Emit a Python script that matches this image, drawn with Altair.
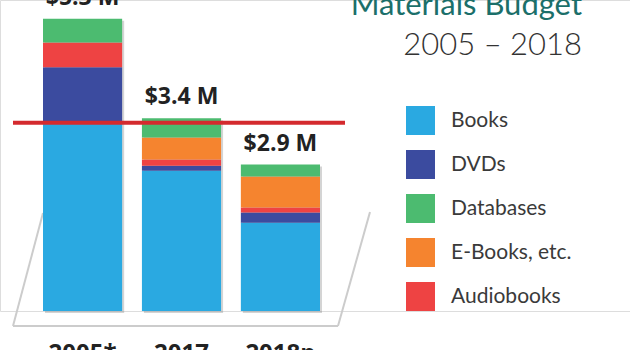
import altair as alt
import pandas as pd

years = ["2005*", "2017", "2018p"]
categories = ["Books", "DVDs", "Databases", "E-Books, etc.", "Audiobooks"]
stack_order = ["Books", "DVDs", "Audiobooks", "E-Books, etc.", "Databases"]
colors = ["#2aa9e1", "#3b4b9f", "#4cbb70", "#f5842f", "#ee4343"]

books = [3.31, 2.48, 1.56]
dvds = [1.00, 0.09, 0.18]
audiobooks = [0.44, 0.11, 0.09]
ebooks = [0.0, 0.39, 0.55]
databases = [0.42, 0.34, 0.21]
total_labels = ["$5.3 M", "$3.4 M", "$2.9 M"]
reference_value = [3.33]

series = {"Books": books, "DVDs": dvds, "Audiobooks": audiobooks,
          "E-Books, etc.": ebooks, "Databases": databases}
rows = []
for cat, vals in series.items():
    for yr, v in zip(years, vals):
        rows.append({"year": yr, "category": cat, "value": v,
                     "order": stack_order.index(cat)})
df = pd.DataFrame(rows)

totals = pd.DataFrame({
    "year": years,
    "total": [sum(series[c][i] for c in series) for i in range(len(years))],
    "label": total_labels,
})
ref = pd.DataFrame({"v": reference_value})

x_enc = alt.X("year:N", sort=years,
              scale=alt.Scale(range=[43, 320], paddingInner=0.2, paddingOuter=0),
              axis=alt.Axis(title=None, domain=False, ticks=False, labelAngle=0,
                            labelFontSize=24, labelFontWeight="bold",
                            labelColor="#222222", labelPadding=30,
                            labelFont="Open Sans"))
y_scale = alt.Scale(domain=[0, 5.5], nice=False, zero=True)

floor_color = "#cccccc"
floor_left = alt.Chart(ref).mark_rule(color=floor_color, strokeWidth=2).encode(
    x=alt.value(13), x2=alt.value(43), y=alt.value(326), y2=alt.value(213))
floor_bottom = alt.Chart(ref).mark_rule(color=floor_color, strokeWidth=2).encode(
    x=alt.value(13), x2=alt.value(338), y=alt.value(326))
floor_right = alt.Chart(ref).mark_rule(color=floor_color, strokeWidth=2).encode(
    x=alt.value(338), x2=alt.value(370), y=alt.value(326), y2=alt.value(212))

shadow = alt.Chart(totals).mark_bar(color="#6f6f6f", opacity=0.3,
                                    xOffset=2, yOffset=2).encode(
    x=x_enc,
    y=alt.Y("total:Q", scale=y_scale, axis=None),
)

bars = alt.Chart(df).mark_bar().encode(
    x=x_enc,
    y=alt.Y("value:Q", stack="zero", scale=y_scale, axis=None),
    color=alt.Color("category:N",
                    scale=alt.Scale(domain=categories, range=colors),
                    legend=alt.Legend(title=None, orient="none",
                                      legendX=406, legendY=106,
                                      symbolType="square", symbolSize=841,
                                      symbolStrokeWidth=0,
                                      labelFontSize=21, labelFont="Lato",
                                      labelFontWeight="normal",
                                      labelColor="#3a3a3a", labelOffset=16,
                                      rowPadding=15, labelLimit=300)),
    order=alt.Order("order:Q", sort="ascending"),
)

labels = alt.Chart(totals).mark_text(fontSize=23, fontWeight="bold",
                                     font="Open Sans", color="#222222",
                                     baseline="alphabetic", dy=-14).encode(
    x=x_enc,
    y=alt.Y("total:Q", scale=y_scale, axis=None),
    text="label:N",
)

redline = alt.Chart(ref).mark_rule(color="#d42a2e", strokeWidth=4).encode(
    y=alt.Y("v:Q", scale=y_scale, axis=None),
    x=alt.value(13), x2=alt.value(345),
)

title1 = alt.Chart(ref).mark_text(text="Materials Budget", font="Lato",
                                  fontSize=31, color="#1b6f6a", align="right",
                                  baseline="alphabetic").encode(
    x=alt.value(582), y=alt.value(15))
title2 = alt.Chart(ref).mark_text(text="2005 – 2018", font="Lato",
                                  fontSize=31, fontWeight=300, color="#333333",
                                  align="right", baseline="alphabetic").encode(
    x=alt.value(582), y=alt.value(55))

chart = alt.layer(floor_left, floor_bottom, floor_right, shadow, bars, labels,
                  redline, title1, title2).properties(
    width=630, height=311,
    autosize=alt.AutoSizeParams(type="none"),
    padding={"left": 0, "top": 0, "right": 0, "bottom": 39},
).configure_view(stroke=None).configure(background="white")

chart.save("out.html", embed_options={"renderer": "svg", "actions": False})
